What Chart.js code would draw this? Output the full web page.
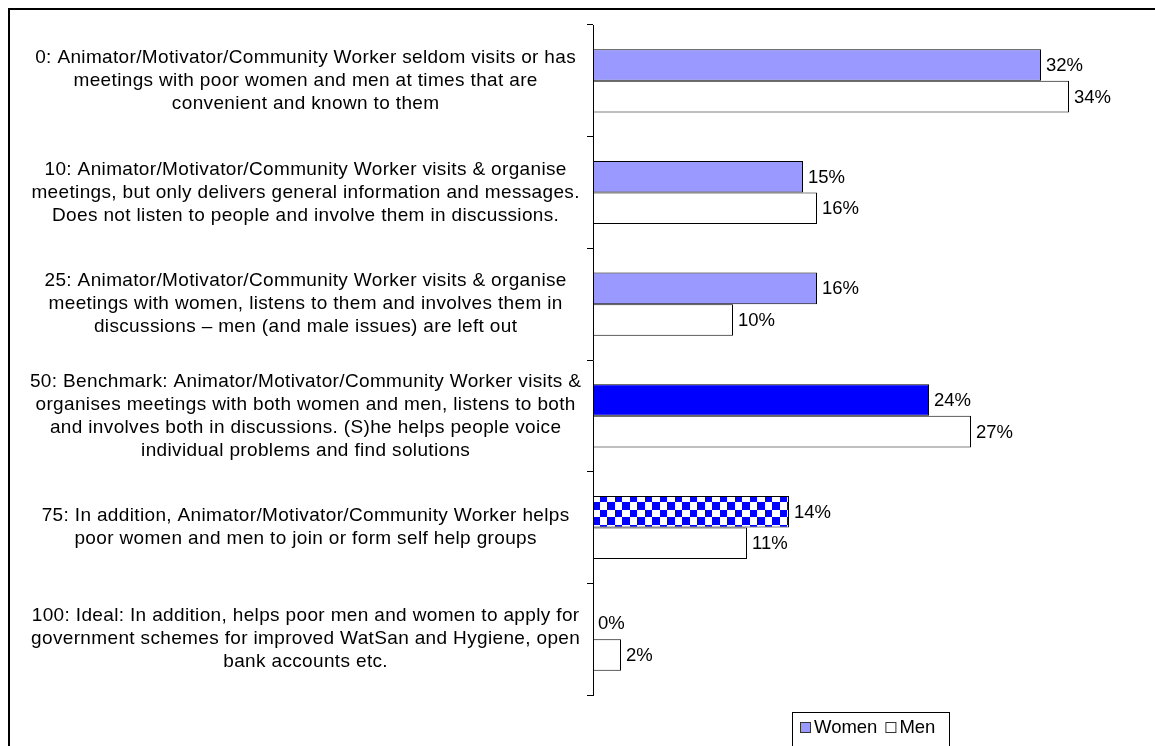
<!DOCTYPE html>
<html>
<head>
<meta charset="utf-8">
<script src="https://cdn.jsdelivr.net/npm/chart.js@4.4.1/dist/chart.umd.min.js"></script>
<style>
  html, body { margin: 0; padding: 0; background: #fff; }
  #wrap { width: 1155px; height: 746px; position: relative; }
</style>
</head>
<body>
<div id="wrap"><canvas id="ladderChart"></canvas></div>
<script>
// ladder steps, one array of lines per step
var categories = [
    ['0: Animator/Motivator/Community Worker seldom visits or has', 'meetings with poor women and men at times that are', 'convenient and known to them'],
    ['10: Animator/Motivator/Community Worker visits & organise', 'meetings, but only delivers general information and messages.', 'Does not listen to people and involve them in discussions.'],
    ['25: Animator/Motivator/Community Worker visits & organise', 'meetings with women, listens to them and involves them in', 'discussions \u2013 men (and male issues) are left out'],
    ['50: Benchmark: Animator/Motivator/Community Worker visits &', 'organises meetings with both women and men, listens to both', 'and involves both in discussions. (S)he helps people voice', 'individual problems and find solutions'],
    ['75: In addition, Animator/Motivator/Community Worker helps', 'poor women and men to join or form self help groups'],
    ['100: Ideal: In addition, helps poor men and women to apply for', 'government schemes for improved WatSan and Hygiene, open', 'bank accounts etc.']
];
var womenValues = [32, 15, 16, 24, 14, 0];
var menValues = [34, 16, 10, 27, 11, 2];
var seriesNames = ['Women', 'Men'];

var FONT = '"Liberation Sans", Arial, sans-serif';
var TEXT_SIZE = 18.5;

// blue/white checks for the step above benchmark
function checkerPattern(ctx) {
    var c = document.createElement('canvas');
    c.width = 15;
    c.height = 15;
    var p = c.getContext('2d');
    p.fillStyle = '#fff';
    p.fillRect(0, 0, 15, 15);
    p.fillStyle = '#0000ff';
    p.fillRect(0, 0, 7, 7);
    p.fillRect(7, 7, 8, 8);
    return ctx.createPattern(c, 'repeat');
}

var canvas = document.getElementById('ladderChart');
var ctx = canvas.getContext('2d');

var womenColors = ['#9999ff', '#9999ff', '#9999ff', '#0000ff', checkerPattern(ctx), '#9999ff'];

// slightly wider tracking for the long step descriptions
var labelTracking = {
    id: 'labelTracking',
    beforeDraw: function (chart) {
        chart.ctx.letterSpacing = '0.35px';
    },
    afterDatasetsDraw: function (chart) {
        chart.ctx.letterSpacing = '0px';
    }
};

var valueLabels = {
    id: 'valueLabels',
    afterDatasetsDraw: function (chart) {
        var c = chart.ctx;
        c.save();
        c.font = TEXT_SIZE + 'px ' + FONT;
        c.fillStyle = '#000';
        c.textBaseline = 'middle';
        c.textAlign = 'left';
        chart.data.datasets.forEach(function (ds, i) {
            chart.getDatasetMeta(i).data.forEach(function (bar, j) {
                c.fillText(ds.data[j] + '%', bar.x + 5, bar.y + 1);
            });
        });
        c.restore();
    }
};

// outer frame plus the boxed legend under the plot
var frameAndLegend = {
    id: 'frameAndLegend',
    afterDraw: function (chart) {
        var c = chart.ctx;
        c.save();
        c.strokeStyle = '#000';
        c.lineWidth = 2;
        c.beginPath();
        c.moveTo(9, 760);
        c.lineTo(9, 9);
        c.lineTo(1160, 9);
        c.stroke();

        c.lineWidth = 1;
        c.strokeRect(792.5, 712.5, 157, 50);

        c.font = TEXT_SIZE + 'px ' + FONT;
        c.textBaseline = 'middle';
        c.textAlign = 'left';
        var x = 800;
        var y = 727;
        chart.data.datasets.forEach(function (ds) {
            c.fillStyle = ds.legendColor;
            c.fillRect(x + 0.5, y - 4.5, 10, 10);
            c.strokeStyle = '#333';
            c.strokeRect(x + 0.5, y - 4.5, 10, 10);
            c.fillStyle = '#000';
            c.fillText(ds.label, x + 14, y + 1);
            x += 14 + c.measureText(ds.label).width + 8;
        });
        c.restore();
    }
};

var ladderChart = new Chart(ctx, {
    type: 'bar',
    data: {
        labels: categories,
        datasets: [{
            label: seriesNames[0],
            data: womenValues,
            backgroundColor: womenColors,
            legendColor: '#9999ff',
            borderColor: '#000',
            borderWidth: 1,
            borderSkipped: false,
            categoryPercentage: 0.565,
            barPercentage: 1.0
        }, {
            label: seriesNames[1],
            data: menValues,
            backgroundColor: '#ffffff',
            legendColor: '#ffffff',
            borderColor: '#000',
            borderWidth: 1,
            borderSkipped: false,
            categoryPercentage: 0.565,
            barPercentage: 1.0
        }]
    },
    options: {
        indexAxis: 'y',
        responsive: true,
        maintainAspectRatio: false,
        animation: false,
        events: [],
        layout: {
            padding: { top: 25, bottom: 51, left: 0, right: 2 }
        },
        plugins: {
            legend: { display: false },
            tooltip: { enabled: false }
        },
        scales: {
            x: {
                display: false,
                min: 0,
                max: 40
            },
            y: {
                offset: true,
                border: { color: '#000', width: 1 },
                grid: {
                    drawOnChartArea: false,
                    color: '#000',
                    tickLength: 6
                },
                ticks: {
                    color: '#000',
                    autoSkip: false,
                    crossAlign: 'center',
                    padding: 16,
                    font: { family: FONT, size: 19, lineHeight: 1.21 }
                },
                afterFit: function (scale) {
                    // fixed label column; no extra room for tall first/last labels
                    scale.width = 593;
                    scale.paddingTop = 0;
                    scale.paddingBottom = 0;
                }
            }
        }
    },
    plugins: [labelTracking, valueLabels, frameAndLegend]
});
</script>
</body>
</html>
